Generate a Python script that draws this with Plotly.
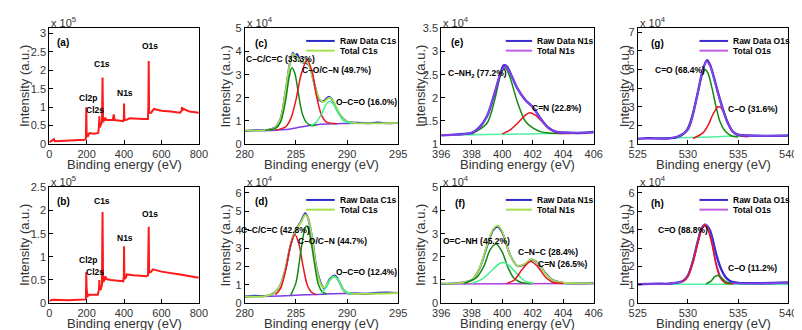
import plotly.graph_objects as go

# ---- survey spectra, intensity in 1e5 ----
surv_a_x = [0, 10, 20, 25, 30, 100, 150, 190, 196, 198, 200, 205, 215, 240, 262, 266, 268, 270, 275, 282, 285, 288, 295,
            300, 305, 320, 340, 345, 350, 380, 396, 399, 400, 402, 410, 430, 500, 528, 530, 532, 534, 545, 560, 600, 650,
            700, 708, 710, 714, 720, 750, 800]
surv_a_y = [0.05, 0.08, 0.1, 0.13, 0.08, 0.1, 0.11, 0.12, 0.15, 1.0, 0.3, 0.2, 0.3, 0.28, 0.3, 0.5, 0.75, 0.45, 0.5, 0.6,
            1.8, 0.6, 0.65, 0.72, 0.65, 0.65, 0.65, 0.8, 0.65, 0.63, 0.62, 0.7, 1.1, 0.65, 0.65, 0.7, 0.68, 0.68, 1.0, 2.25,
            0.85, 0.85, 0.95, 0.9, 0.88, 0.85, 0.9, 1.0, 0.92, 0.95, 0.88, 0.85]
surv_b_x = [0, 20, 100, 190, 196, 198, 200, 205, 215, 260, 266, 268, 270, 276, 282, 285, 288, 295, 300, 305, 330, 380, 396,
            399, 400, 402, 410, 415, 450, 520, 528, 530, 532, 534, 545, 555, 600, 700, 800]
surv_b_y = [0.05, 0.07, 0.06, 0.07, 0.08, 0.67, 0.3, 0.15, 0.18, 0.18, 0.3, 0.5, 0.3, 0.3, 0.4, 1.97, 0.45, 0.5, 0.58, 0.52,
            0.5, 0.48, 0.47, 0.6, 1.23, 0.52, 0.55, 0.62, 0.6, 0.58, 0.6, 0.9, 1.65, 0.65, 0.68, 0.73, 0.68, 0.62, 0.55]

# ---- C1s (c), intensity in 1e4 ----
c_tot_x = [280, 282, 283, 283.5, 284, 284.4, 284.7, 285, 285.5, 286, 286.3, 286.8, 287.3, 287.7, 288.2, 288.5, 289, 289.5, 290, 291, 295]
c_tot_y = [0.58, 0.6, 0.72, 1.1, 2.3, 3.5, 3.9, 3.8, 3.55, 3.55, 3.4, 2.6, 1.95, 1.82, 2.0, 1.95, 1.55, 1.15, 0.97, 0.9, 0.92]
c_raw_x = [280, 281, 282, 283, 283.5, 284, 284.4, 284.7, 284.9, 285.1, 285.5, 286, 286.3, 286.8, 287.3, 287.7, 288.2, 288.5, 289, 289.5, 290, 291, 292, 293, 294, 295]
c_raw_y = [0.57, 0.6, 0.6, 0.73, 1.1, 2.3, 3.5, 3.95, 3.8, 3.9, 3.55, 3.5, 3.4, 2.6, 1.9, 1.85, 2.05, 1.95, 1.5, 1.15, 0.97, 0.92, 0.9, 0.93, 0.9, 0.92]
c_cc_x = [282, 283, 283.5, 284, 284.3, 284.6, 284.9, 285.2, 285.6, 286, 286.5, 287]
c_cc_y = [0.6, 0.68, 0.95, 1.9, 2.8, 3.3, 3.05, 2.3, 1.35, 0.95, 0.8, 0.84]
c_co_x = [283, 284, 284.5, 285, 285.5, 286.1, 286.6, 287, 287.5, 288, 289]
c_co_y = [0.6, 0.75, 1.1, 1.9, 3.0, 3.65, 3.1, 2.1, 1.25, 0.95, 0.88]
c_occ_x = [286.5, 287, 287.5, 288, 288.3, 288.7, 289.2, 289.7, 290.5]
c_occ_y = [0.8, 0.95, 1.3, 1.75, 1.85, 1.7, 1.3, 1.0, 0.9]
c_bg_x = [280, 282, 283, 284, 285, 286, 287, 288, 289, 290, 292, 295]
c_bg_y = [0.58, 0.59, 0.6, 0.63, 0.7, 0.78, 0.84, 0.87, 0.88, 0.89, 0.9, 0.9]

# ---- C1s (d) ----
d_tot_x = [280, 282, 283, 283.5, 284, 284.5, 285, 285.5, 285.9, 286.2, 286.6, 287, 287.5, 287.8, 288.3, 288.7, 289.2, 289.6, 290, 291, 295]
d_tot_y = [0.35, 0.38, 0.6, 1.0, 1.9, 3.2, 4.0, 4.4, 4.8, 4.6, 3.5, 1.9, 0.95, 0.85, 1.25, 1.45, 1.2, 0.75, 0.55, 0.5, 0.55]
d_raw_x = [280, 281, 282, 283, 283.5, 284, 284.5, 285, 285.5, 285.9, 286.2, 286.6, 287, 287.5, 287.8, 288.3, 288.8, 289.2, 289.6, 290, 291, 292, 293, 294, 295]
d_raw_y = [0.36, 0.4, 0.38, 0.6, 1.0, 1.9, 3.2, 4.0, 4.45, 4.9, 4.6, 3.5, 1.95, 1.0, 0.8, 1.3, 1.5, 1.2, 0.75, 0.55, 0.52, 0.5, 0.56, 0.58, 0.55]
d_cc_x = [283, 283.5, 284, 284.5, 284.9, 285.3, 285.7, 286.1, 286.5, 287]
d_cc_y = [0.45, 0.8, 1.8, 3.2, 3.75, 3.2, 2.0, 1.0, 0.6, 0.45]
d_co_x = [284.5, 285, 285.5, 285.9, 286.1, 286.4, 286.8, 287.2, 287.6, 288]
d_co_y = [0.45, 1.1, 2.9, 4.1, 4.2, 3.6, 2.2, 1.0, 0.6, 0.5]
d_occ_x = [287.5, 288, 288.4, 288.8, 289.2, 289.6, 290, 290.5]
d_occ_y = [0.55, 0.9, 1.3, 1.45, 1.2, 0.8, 0.6, 0.52]
d_bg_x = [280, 284, 286, 288, 290, 295]
d_bg_y = [0.35, 0.4, 0.45, 0.5, 0.52, 0.55]

# ---- N1s (e) ----
e_tot_x = [396, 397, 398, 398.5, 399, 399.5, 399.9, 400.2, 400.5, 401, 401.5, 402, 402.5, 403, 403.5, 404, 406]
e_tot_y = [1.2, 1.2, 1.25, 1.35, 1.6, 2.1, 2.55, 2.68, 2.55, 2.2, 1.95, 1.8, 1.55, 1.35, 1.27, 1.25, 1.25]
e_raw_x = [396, 397, 398, 398.5, 399, 399.5, 399.9, 400.1, 400.3, 400.5, 401, 401.5, 402, 402.5, 403, 403.5, 404, 405, 406]
e_raw_y = [1.19, 1.21, 1.24, 1.36, 1.6, 2.1, 2.55, 2.7, 2.68, 2.56, 2.2, 1.96, 1.8, 1.56, 1.36, 1.27, 1.25, 1.24, 1.26]
e_nh2_x = [398, 399, 399.5, 399.9, 400.2, 400.5, 401, 401.5, 402, 402.5, 403, 404]
e_nh2_y = [1.22, 1.45, 1.95, 2.5, 2.65, 2.45, 1.9, 1.5, 1.35, 1.27, 1.24, 1.23]
e_cn_x = [400, 400.5, 401, 401.5, 401.8, 402.2, 402.7, 403.2, 403.7, 404.5]
e_cn_y = [1.22, 1.3, 1.45, 1.62, 1.68, 1.62, 1.45, 1.3, 1.24, 1.23]
e_bg_x = [396, 400, 403, 406]
e_bg_y = [1.19, 1.21, 1.23, 1.25]

# ---- N1s (f) ----
f_tot_x = [396, 397, 398, 398.5, 399, 399.4, 399.7, 400, 400.5, 401, 401.5, 401.9, 402.3, 402.8, 403.3, 404, 406]
f_tot_y = [0.85, 0.85, 1.0, 1.5, 2.5, 3.2, 3.35, 3.1, 2.1, 1.6, 1.7, 1.9, 1.75, 1.3, 1.0, 0.88, 0.85]
f_raw_x = [396, 397, 398, 398.5, 399, 399.4, 399.7, 400, 400.5, 401, 401.5, 401.9, 402.3, 402.8, 403.3, 404, 405, 406]
f_raw_y = [0.84, 0.86, 1.0, 1.48, 2.45, 3.15, 3.3, 3.05, 2.1, 1.6, 1.68, 1.88, 1.75, 1.32, 1.0, 0.87, 0.85, 0.86]
f_ocnh_x = [397.5, 398.3, 398.8, 399.2, 399.6, 400, 400.4, 400.8, 401.3, 402]
f_ocnh_y = [0.85, 1.1, 1.6, 2.3, 2.55, 2.2, 1.5, 1.05, 0.88, 0.85]
f_cnc_x = [398, 398.7, 399.3, 399.8, 400.1, 400.5, 401, 401.5, 402]
f_cnc_y = [0.85, 1.05, 1.4, 1.7, 1.75, 1.6, 1.25, 0.95, 0.86]
f_cn_x = [400.3, 400.8, 401.3, 401.85, 402.3, 402.8, 403.3, 404]
f_cn_y = [0.85, 1.0, 1.45, 1.8, 1.6, 1.15, 0.9, 0.85]
f_bg_x = [396, 406]
f_bg_y = [0.83, 0.85]

# ---- O1s (g) ----
g_tot_x = [525, 528, 529, 530, 530.5, 531, 531.5, 531.8, 532.2, 532.6, 533, 533.5, 534, 534.5, 535, 536, 540]
g_tot_y = [1.3, 1.3, 1.4, 1.8, 2.6, 3.8, 5.0, 5.45, 5.2, 4.5, 3.7, 2.8, 2.1, 1.65, 1.5, 1.45, 1.45]
g_raw_x = [525, 526, 528, 529, 530, 530.5, 531, 531.5, 531.9, 532.2, 532.6, 533, 533.5, 534, 534.5, 535, 536, 538, 540]
g_raw_y = [1.28, 1.32, 1.3, 1.4, 1.8, 2.6, 3.8, 5.0, 5.5, 5.25, 4.55, 3.75, 2.85, 2.1, 1.65, 1.5, 1.46, 1.44, 1.46]
g_co_x = [528.5, 529.5, 530, 530.5, 531, 531.4, 531.7, 532, 532.4, 532.8, 533.2, 533.7, 534.3, 535]
g_co_y = [1.3, 1.5, 1.9, 2.7, 3.8, 4.7, 5.0, 4.8, 4.0, 3.0, 2.2, 1.7, 1.45, 1.38]
g_c_o_x = [530.5, 531.5, 532, 532.5, 533, 533.3, 533.7, 534.2, 534.7, 535.5, 536]
g_c_o_y = [1.3, 1.6, 2.0, 2.6, 3.0, 2.95, 2.5, 1.9, 1.55, 1.42, 1.4]
g_bg_x = [526, 530, 533, 536, 540]
g_bg_y = [1.3, 1.35, 1.4, 1.45, 1.45]

# ---- O1s (h) ----
h_tot_x = [525, 528, 529.5, 530, 530.5, 531, 531.4, 531.7, 532, 532.4, 532.8, 533.2, 533.7, 534.5, 540]
h_tot_y = [1.05, 1.05, 1.2, 1.5, 2.3, 3.4, 4.1, 4.3, 4.1, 3.3, 2.2, 1.5, 1.15, 1.08, 1.1]
h_raw_x = [525, 527, 528, 529.5, 530, 530.5, 531, 531.4, 531.8, 532.2, 532.8, 533.2, 533.7, 534.2, 535, 537, 540]
h_raw_y = [1.03, 1.06, 1.05, 1.2, 1.5, 2.3, 3.4, 4.1, 4.25, 3.95, 2.7, 2.0, 1.45, 1.2, 1.1, 1.08, 1.12]
h_co_x = [529.5, 530, 530.5, 531, 531.4, 531.7, 532, 532.4, 532.8, 533.2, 533.7, 534.5]
h_co_y = [1.15, 1.45, 2.2, 3.3, 4.05, 4.25, 4.0, 3.2, 2.1, 1.4, 1.1, 1.05]
h_c_o_x = [531.8, 532.3, 532.7, 533, 533.4, 533.8, 534.3]
h_c_o_y = [1.05, 1.2, 1.45, 1.5, 1.35, 1.15, 1.05]
h_bg_x = [527, 540]
h_bg_y = [1.02, 1.02]

RED = "#ff1a1a"
RAW = "#2b2bc8"
RAW_V = "#3a2ad0"
TOT_YG = "#a6e04c"
TOT_M = "#8a44ea"
GREEN = "#128a12"
CRED = "#e8141e"
CYAN = "#3cf08c"
BG_P = "#7d3ce6"
BG_G = "#50f0a0"
FONT = "Liberation Sans, Arial, sans-serif"

fig = go.Figure()


def add(ax, x, y, color, width=1.5, spline=True):
    fig.add_trace(go.Scatter(
        x=x, y=y, mode="lines", xaxis="x" + ax, yaxis="y" + ax, showlegend=False, hoverinfo="skip",
        line=dict(color=color, width=width, shape="spline" if spline else "linear", smoothing=0.8)))


# survey
add("1", surv_a_x, surv_a_y, RED, 2, False)
add("5", surv_b_x, surv_b_y, RED, 2, False)
# c
add("2", c_bg_x, c_bg_y, BG_P, 1.5)
add("2", c_raw_x, c_raw_y, RAW, 2)
add("2", c_tot_x, c_tot_y, TOT_YG, 1.8)
add("2", c_cc_x, c_cc_y, GREEN)
add("2", c_co_x, c_co_y, CRED)
add("2", c_occ_x, c_occ_y, CYAN)
# d
add("6", d_bg_x, d_bg_y, BG_P, 1.5)
add("6", d_raw_x, d_raw_y, RAW, 2)
add("6", d_tot_x, d_tot_y, TOT_YG, 1.8)
add("6", d_cc_x, d_cc_y, CRED)
add("6", d_co_x, d_co_y, GREEN)
add("6", d_occ_x, d_occ_y, CYAN)
# e
add("3", e_bg_x, e_bg_y, BG_G, 1.5)
add("3", e_nh2_x, e_nh2_y, GREEN)
add("3", e_cn_x, e_cn_y, CRED)
add("3", e_raw_x, e_raw_y, RAW_V, 2.4)
add("3", e_tot_x, e_tot_y, TOT_M, 1.6)
# f
add("7", f_bg_x, f_bg_y, "#b040e0", 1.5)
add("7", f_raw_x, f_raw_y, RAW, 2)
add("7", f_tot_x, f_tot_y, TOT_YG, 1.8)
add("7", f_ocnh_x, f_ocnh_y, GREEN)
add("7", f_cnc_x, f_cnc_y, CYAN)
add("7", f_cn_x, f_cn_y, CRED)
# g
add("4", g_bg_x, g_bg_y, BG_G, 1.5)
add("4", g_co_x, g_co_y, GREEN)
add("4", g_c_o_x, g_c_o_y, CRED)
add("4", g_raw_x, g_raw_y, RAW_V, 2.4)
add("4", g_tot_x, g_tot_y, TOT_M, 1.6)
# h
add("8", h_bg_x, h_bg_y, BG_G, 1.5)
add("8", h_raw_x, h_raw_y, RAW_V, 2.4)
add("8", h_tot_x, h_tot_y, TOT_M, 1.6)
add("8", h_co_x, h_co_y, CRED)
add("8", h_c_o_x, h_c_o_y, GREEN)

W, H = 802, 330
xdom = [(33, 186), (233, 390), (434, 590), (635, 789)]
ydom = [(15, 135), (180, 300)]
xranges = [[0, 800], [280, 295], [396, 406], [525, 540]]
xdticks = [200, 5, 2, 5]
yranges = [[0, 3.13], [0, 5], [1, 3.5], [1, 7.2], [0, 2.5], [0, 6.3], [0, 5], [0, 6.3]]
ydticks = [0.5, 1, 0.5, 1, 0.5, 1, 1, 1]
exps = ["5", "4", "4", "4", "5", "4", "4", "4"]

layout = dict(width=W, height=H, margin=dict(l=0, r=0, t=0, b=0), paper_bgcolor="white", plot_bgcolor="white",
              font=dict(family=FONT, size=11, color="#333"), showlegend=False)
annotations = []
shapes = []
for i in range(8):
    col, row = i % 4, i // 4
    n = "" if i == 0 else str(i + 1)
    x0, x1 = xdom[col]
    y0, y1 = ydom[row]
    axstyle = dict(showline=True, linecolor="black", linewidth=1, mirror=True, ticks="inside", ticklen=4,
                   tickcolor="black", showgrid=False, zeroline=False, tickfont=dict(size=11, color="#333"))
    layout["xaxis" + n] = dict(domain=[x0 / W, x1 / W], anchor="y" + n, range=xranges[col], dtick=xdticks[col],
                               tick0=0, **axstyle)
    layout["yaxis" + n] = dict(domain=[1 - y1 / H, 1 - y0 / H], anchor="x" + n, range=yranges[i], dtick=ydticks[i],
                               tick0=0, **axstyle)
    cx = (x0 + x1) / 2
    annotations.append(dict(text="Binding energy (eV)", xref="paper", yref="paper", x=cx / W, y=1 - (y1 + 21) / H,
                            xanchor="center", yanchor="middle", showarrow=False, font=dict(size=13, color="#333")))
    ty = [7, 213, 413, 621][col]
    annotations.append(dict(text="Intensity (a.u.)", xref="paper", yref="paper", x=ty / W, y=1 - (y0 + y1) / 2 / H,
                            xanchor="center", yanchor="middle", textangle=-90, showarrow=False,
                            font=dict(size=13, color="#333")))
    annotations.append(dict(text="x 10<sup>" + exps[i] + "</sup>", xref="paper", yref="paper", x=x0 / W,
                            y=1 - (y0 - 7) / H, xanchor="left", yanchor="middle", showarrow=False,
                            font=dict(size=11, color="#333")))

# in-plot labels: (axis, x, y, text)
labels = [
    ("1", 74, 2.76, "(a)"), ("1", 205, 1.26, "Cl2p"), ("1", 247, 0.92, "Cl2s"), ("1", 284, 2.18, "C1s"),
    ("1", 405, 1.39, "N1s"), ("1", 537, 2.66, "O1s"),
    ("5", 74, 2.19, "(b)"), ("5", 284, 2.21, "C1s"), ("5", 537, 1.92, "O1s"), ("5", 405, 1.4, "N1s"),
    ("5", 205, 0.94, "Cl2p"), ("5", 247, 0.67, "Cl2s"),
    ("2", 281.6, 4.37, "(c)"), ("2", 283.5, 3.67, "C–C/C=C (33.3%)"), ("2", 289.0, 3.2, "C–O/C–N (49.7%)"),
    ("2", 291.9, 1.83, "O–C=O (16.0%)"),
    ("6", 281.6, 5.53, "(d)"), ("6", 283.0, 4.0, "C–C/C=C (42.8%)"), ("6", 288.6, 3.37, "C–O/C–N (44.7%)"),
    ("6", 291.9, 1.68, "O–C=O (12.4%)"),
    ("3", 397.0, 3.19, "(e)"), ("3", 398.4, 2.52, "C–NH<sub>2</sub> (77.2%)"), ("3", 403.6, 1.79, "C=N (22.8%)"),
    ("7", 397.2, 4.29, "(f)"), ("7", 398.3, 2.67, "O=C–NH (45.2%)"), ("7", 403.0, 2.21, "C–N–C (28.4%)"),
    ("7", 404.0, 1.71, "C=N (26.5%)"),
    ("4", 527.0, 6.42, "(g)"), ("4", 529.2, 4.95, "C=O (68.4%)"), ("4", 536.5, 2.89, "C–O (31.6%)"),
    ("8", 527.0, 5.42, "(h)"), ("8", 529.5, 4.0, "C=O (88.8%)"), ("8", 536.4, 1.89, "C–O (11.2%)"),
]
for ax, x, y, t in labels:
    size = 10 if t.startswith("(") else 8.5
    annotations.append(dict(text="<b>" + t + "</b>", xref="x" + ax if ax != "1" else "x",
                            yref="y" + ax if ax != "1" else "y", x=x, y=y, xanchor="center", yanchor="middle",
                            showarrow=False, font=dict(size=size, color="black")))

# legends drawn per panel
legends = [
    ("2", 0.40, 0.586, [("Raw Data C1s", RAW), ("Total C1s", TOT_YG)]),
    ("6", 0.40, 0.586, [("Raw Data C1s", RAW), ("Total C1s", TOT_YG)]),
    ("3", 0.423, 0.596, [("Raw Data N1s", RAW_V), ("Total N1s", "#c060e8")]),
    ("7", 0.423, 0.596, [("Raw Data N1s", RAW), ("Total N1s", TOT_YG)]),
    ("4", 0.41, 0.60, [("Raw Data O1s", RAW_V), ("Total O1s", "#c060e8")]),
    ("8", 0.41, 0.60, [("Raw Data O1s", RAW_V), ("Total O1s", "#c060e8")]),
]
for ax, lx0, lx1, items in legends:
    for k, (name, color) in enumerate(items):
        yy = 0.892 - k * 0.084
        shapes.append(dict(type="line", xref="x" + ax + " domain", yref="y" + ax + " domain", x0=lx0, x1=lx1,
                           y0=yy, y1=yy, line=dict(color=color, width=2)))
        annotations.append(dict(text="<b>" + name + "</b>", xref="x" + ax + " domain", yref="y" + ax + " domain",
                                x=lx1 + 0.02, y=yy, xanchor="left", yanchor="middle", showarrow=False,
                                font=dict(size=8.5, color="black")))

layout["annotations"] = annotations
layout["shapes"] = shapes
fig.update_layout(**layout)
fig.write_html("out.html")
